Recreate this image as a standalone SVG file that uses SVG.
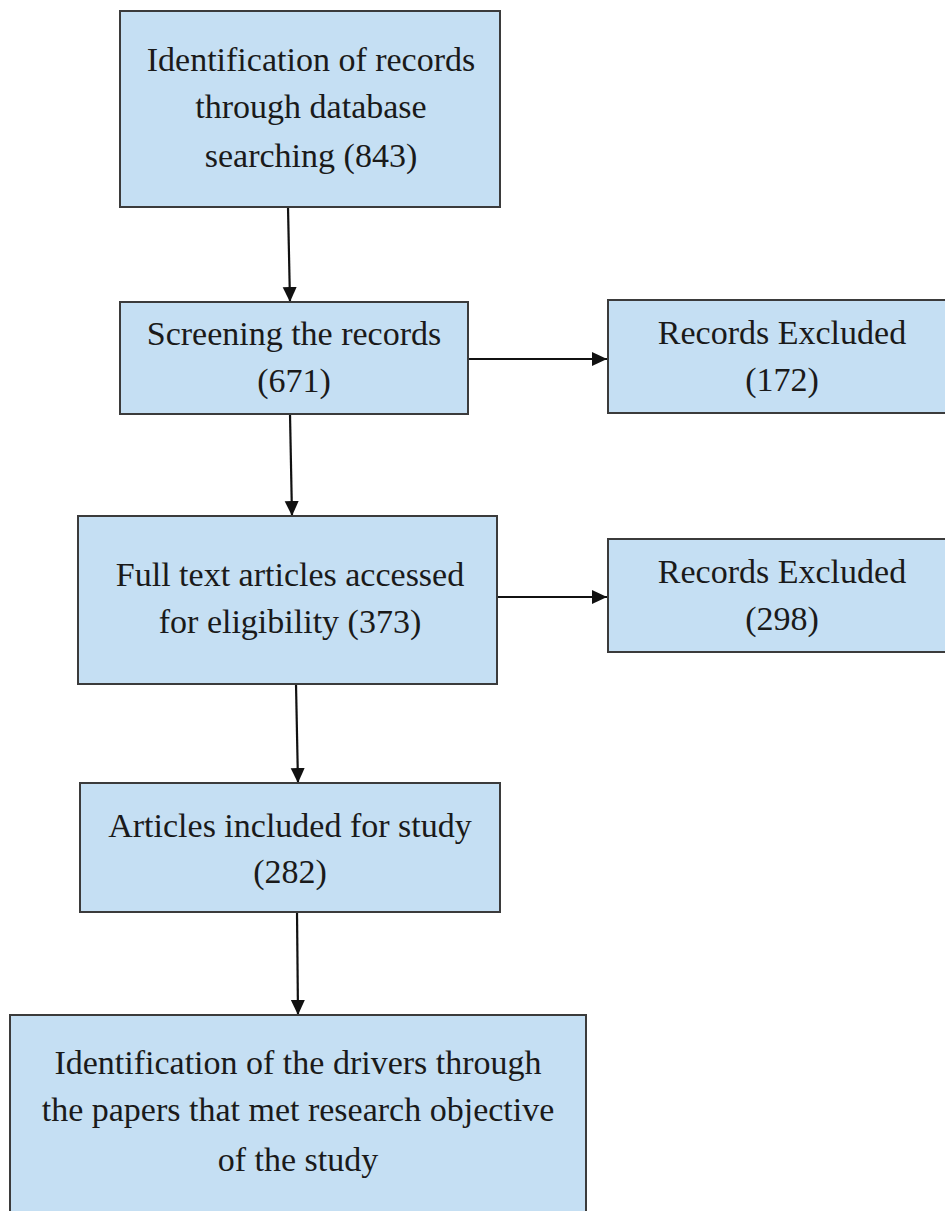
<svg xmlns="http://www.w3.org/2000/svg" width="945" height="1211" viewBox="0 0 945 1211">
<style>
.box{fill:#c5dff3;stroke:#3b3b3b;stroke-width:2}
.t{font-family:"Liberation Serif","Times New Roman",serif;font-size:34px;fill:#1a1a1a;text-anchor:middle}
.c{stroke:#111;stroke-width:2.2;fill:none}
</style>
<defs>
<marker id="ah" markerUnits="userSpaceOnUse" markerWidth="16" markerHeight="16" refX="15" refY="7" orient="auto">
<path d="M0,0 L15,7 L0,14 Z" fill="#111"/>
</marker>
</defs>
<rect width="945" height="1211" fill="#fff"/>
<g id="connectors">
<line class="c" x1="288" y1="207" x2="290" y2="302" marker-end="url(#ah)"/>
<line class="c" x1="290" y1="414" x2="292" y2="516" marker-end="url(#ah)"/>
<line class="c" x1="296" y1="684" x2="298" y2="783" marker-end="url(#ah)"/>
<line class="c" x1="297" y1="912" x2="298" y2="1015" marker-end="url(#ah)"/>
<line class="c" x1="468" y1="359" x2="607" y2="359" marker-end="url(#ah)"/>
<line class="c" x1="497" y1="597" x2="607" y2="597" marker-end="url(#ah)"/>
</g>
<g id="n1">
<rect class="box" x="120" y="11" width="380" height="196"/>
<text class="t" x="311" y="71">Identification of records</text>
<text class="t" x="311" y="118">through database</text>
<text class="t" x="311" y="167">searching (843)</text>
</g>
<g id="n2">
<rect class="box" x="120" y="302" width="348" height="112"/>
<text class="t" x="294" y="345">Screening the records</text>
<text class="t" x="294" y="392">(671)</text>
</g>
<g id="n3">
<rect class="box" x="608" y="300" width="350" height="113"/>
<text class="t" x="782" y="344">Records Excluded</text>
<text class="t" x="782" y="391">(172)</text>
</g>
<g id="n4">
<rect class="box" x="78" y="516" width="419" height="168"/>
<text class="t" x="290" y="586">Full text articles accessed</text>
<text class="t" x="290" y="633">for eligibility (373)</text>
</g>
<g id="n5">
<rect class="box" x="608" y="539" width="350" height="113"/>
<text class="t" x="782" y="583">Records Excluded</text>
<text class="t" x="782" y="630">(298)</text>
</g>
<g id="n6">
<rect class="box" x="80" y="783" width="420" height="129"/>
<text class="t" x="290" y="837">Articles included for study</text>
<text class="t" x="290" y="883">(282)</text>
</g>
<g id="n7">
<rect class="box" x="10" y="1015" width="576" height="210"/>
<text class="t" x="298" y="1074">Identification of the drivers through</text>
<text class="t" x="298" y="1121">the papers that met research objective</text>
<text class="t" x="298" y="1171">of the study</text>
</g>
</svg>
